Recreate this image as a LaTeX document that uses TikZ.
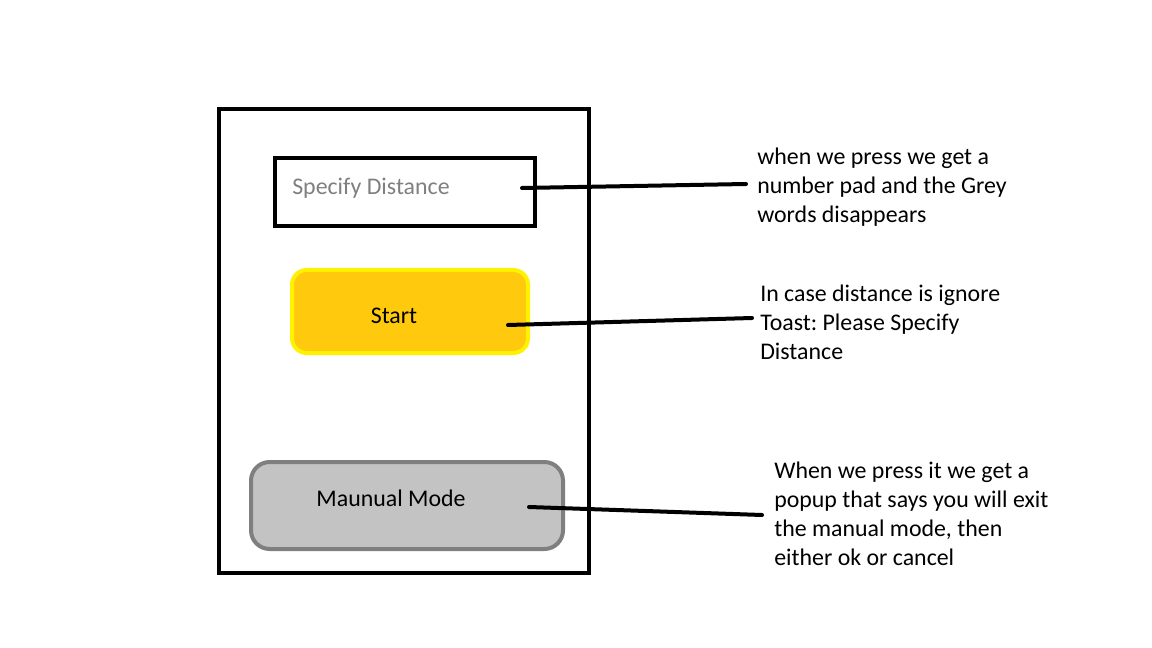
\documentclass[tikz,border=0pt]{standalone}
\usepackage{fontspec}
\setmainfont{Carlito}
\frenchspacing
\definecolor{startfill}{HTML}{FFCA0E}
\definecolor{startedge}{HTML}{FFF200}
\definecolor{manfill}{HTML}{C3C3C3}
\definecolor{manedge}{HTML}{7F7F7F}
\definecolor{hint}{HTML}{7F7F7F}
\begin{document}
\begin{tikzpicture}[x=0.75pt,y=-0.75pt,
  txt/.style={font=\fontsize{17.9}{21.75}\selectfont},
  note/.style={txt,align=left,anchor=west,inner sep=0pt},
  link/.style={line width=3pt,line cap=round},
  frame/.style={draw=black,line width=3pt},
  boxshape/.style={rectangle,inner sep=0pt,line width=3pt},
]
\useasboundingbox (0,0) rectangle (1152,648);
% phone frame
\node[boxshape,draw=black,minimum width=277.5pt,minimum height=348pt] (phone) at (404,341) {};
% specify distance field
\node[boxshape,draw=black,minimum width=195pt,minimum height=51pt] (field) at (405,192) {};
\node[txt,text=hint,anchor=west,inner sep=0pt] (sd) at (292,188) {Specify Distance};
% start button
\node[boxshape,draw=startedge,fill=startfill,rounded corners=11pt,
  minimum width=177pt,minimum height=62.25pt] (startbtn) at (410,311.5) {};
\node[txt,inner sep=0pt] (start) at (394,316) {Start};
% manual mode button
\node[boxshape,draw=manedge,fill=manfill,rounded corners=14pt,
  minimum width=234pt,minimum height=65.25pt] (manbtn) at (407,505.5) {};
\node[txt,inner sep=0pt] (man) at (391,498) {Maunual Mode};
% notes
\node[note] (n1) at (757,187) {when we press we get a\\number pad and the Grey\\words disappears};
\node[note] (n2) at (760,322) {In case distance is ignore\\Toast: Please Specify\\Distance};
\node[note] (n3) at (774,514) {When we press it we get a\\popup that says you will exit\\the manual mode, then\\either ok or cancel};
% connector endpoints
\coordinate (a1) at (522,188);
\coordinate (b1) at (746,184);
\coordinate (a2) at (508,325);
\coordinate (b2) at (752,318);
\coordinate (a3) at (529,507);
\coordinate (b3) at (762,515);
\draw[link] (a1) -- (b1);
\draw[link] (a2) -- (b2);
\draw[link] (a3) -- (b3);
\end{tikzpicture}
\end{document}
